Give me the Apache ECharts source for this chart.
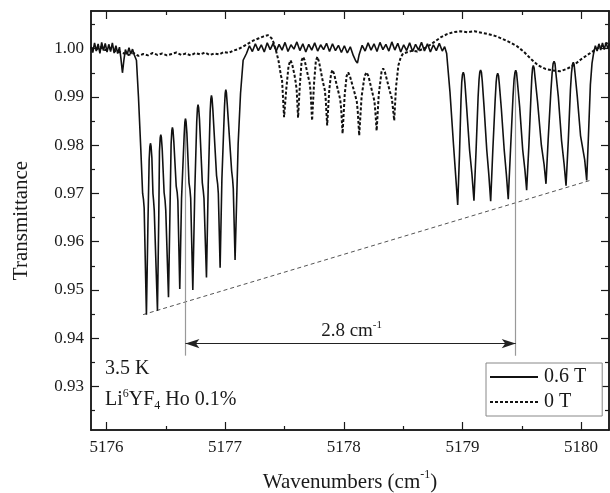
<!DOCTYPE html>
<html><head><meta charset="utf-8">
<script src="https://cdn.jsdelivr.net/npm/echarts@6/dist/echarts.min.js"></script>
<style>html,body{margin:0;padding:0;background:#fff}#c{width:610px;height:493px}</style>
</head><body><div id="c"></div>
<script>
// ---- tick values ----
const xMajorTicks = [5176, 5177, 5178, 5179, 5180];
const xMinorTicks = [5176.5, 5177.5, 5178.5, 5179.5];
const yMajorTicks = [0.93, 0.94, 0.95, 0.96, 0.97, 0.98, 0.99, 1.00];
const yMinorTicks = [0.925, 0.935, 0.945, 0.955, 0.965, 0.975, 0.985, 0.995, 1.005];
const xRange = [5175.87, 5180.235];
const yRange = [0.921, 1.0078];

// ---- 0.6 T (solid) ----
const solidLeftBase = [
 [5175.870,1.0004],[5175.885,0.9992],[5175.900,1.0012],[5175.915,0.9995],[5175.930,1.0010],[5175.945,0.9990],
 [5175.960,1.0013],[5175.975,0.9996],[5175.990,1.0011],[5176.005,0.9993],[5176.020,1.0009],[5176.035,0.9994],
 [5176.050,1.0012],[5176.065,0.9991],[5176.080,1.0006],[5176.095,0.9990],[5176.110,1.0003],[5176.122,0.9980],
 [5176.135,0.9950],[5176.148,0.9978],[5176.160,0.9998],[5176.175,0.9988],[5176.190,1.0002],[5176.205,0.9989],
 [5176.220,0.9999],[5176.235,0.9987],[5176.248,0.9985]
];
const solidLeftCluster = [
 [5176.253,0.9976],[5176.270,0.9900],[5176.290,0.9790],[5176.305,0.9700],[5176.312,0.9688],[5176.318,0.9670],[5176.337,0.9449],
 [5176.350,0.9640],[5176.360,0.9769],[5176.366,0.9797],[5176.371,0.9804],[5176.376,0.9798],[5176.383,0.9774],[5176.392,0.9700],[5176.397,0.9686],[5176.403,0.9665],[5176.430,0.9457],
 [5176.441,0.9650],[5176.447,0.9787],[5176.453,0.9815],[5176.458,0.9822],[5176.463,0.9816],[5176.470,0.9792],[5176.486,0.9702],[5176.494,0.9686],[5176.500,0.9665],[5176.523,0.9485],
 [5176.536,0.9670],[5176.545,0.9802],[5176.551,0.9830],[5176.556,0.9837],[5176.561,0.9831],[5176.568,0.9807],[5176.588,0.9715],[5176.596,0.9703],[5176.602,0.9685],[5176.618,0.9502],
 [5176.633,0.9690],[5176.655,0.9820],[5176.661,0.9848],[5176.666,0.9855],[5176.671,0.9849],[5176.678,0.9825],[5176.696,0.9722],[5176.704,0.9708],[5176.710,0.9690],[5176.728,0.9500],
 [5176.744,0.9700],[5176.761,0.9849],[5176.767,0.9877],[5176.772,0.9884],[5176.777,0.9878],[5176.784,0.9854],[5176.808,0.9722],[5176.816,0.9706],[5176.822,0.9690],[5176.843,0.9526],
 [5176.858,0.9720],[5176.874,0.9868],[5176.880,0.9896],[5176.885,0.9903],[5176.890,0.9897],[5176.897,0.9873],[5176.928,0.9737],[5176.937,0.9720],[5176.943,0.9700],[5176.958,0.9546],
 [5176.973,0.9730],[5176.995,0.9880],[5177.001,0.9908],[5177.006,0.9915],[5177.011,0.9909],[5177.018,0.9885],[5177.055,0.9747],[5177.063,0.9730],[5177.069,0.9710],[5177.084,0.9562],
 [5177.110,0.9803],[5177.130,0.9907],[5177.152,0.9976]
];
const solidMidBase = [
 [5177.180,0.9990],[5177.205,1.0006],[5177.230,0.9994],[5177.255,1.0010],[5177.280,0.9996],[5177.305,1.0008],
 [5177.330,0.9993],[5177.355,1.0012],[5177.380,0.9998],[5177.405,1.0011],[5177.430,0.9995],[5177.455,1.0009],
 [5177.480,0.9997],[5177.505,1.0013],[5177.530,0.9994],[5177.555,1.0008],[5177.580,0.9999],[5177.605,1.0014],
 [5177.630,0.9996],[5177.655,1.0010],[5177.680,0.9993],[5177.705,1.0009],[5177.730,0.9997],[5177.755,1.0012],
 [5177.780,0.9995],[5177.805,1.0008],[5177.830,0.9998],[5177.855,1.0011],[5177.880,0.9994],[5177.905,1.0010],
 [5177.930,0.9996],[5177.955,1.0007],[5177.980,0.9992],[5178.005,1.0006],[5178.030,0.9991],[5178.055,1.0004],
 [5178.080,0.9986],[5178.100,0.9975],[5178.115,0.9970],[5178.130,0.9988],[5178.155,1.0007],[5178.180,0.9995],
 [5178.205,1.0012],[5178.230,0.9997],[5178.255,1.0010],[5178.280,0.9994],[5178.305,1.0013],[5178.330,0.9998],
 [5178.355,1.0009],[5178.380,0.9995],[5178.405,1.0014],[5178.430,0.9997],[5178.455,1.0011],[5178.480,0.9993],
 [5178.505,1.0008],[5178.530,0.9996],[5178.555,1.0012],[5178.580,0.9994],[5178.605,1.0009],[5178.630,0.9997],
 [5178.655,1.0013],[5178.680,0.9995],[5178.705,1.0010],[5178.730,0.9993],[5178.755,1.0008],[5178.780,0.9996],
 [5178.805,1.0011],[5178.830,0.9995],[5178.850,1.0004]
];
const solidRightCluster = [
 [5178.867,0.9990],[5178.895,0.9910],[5178.925,0.9800],[5178.945,0.9730],[5178.960,0.9676],
 [5178.975,0.9780],[5178.988,0.9895],[5178.994,0.9930],[5179.000,0.9946],[5179.007,0.9951],[5179.014,0.9946],[5179.021,0.9928],[5179.035,0.9880],[5179.060,0.9790],[5179.080,0.9740],[5179.097,0.9685],
 [5179.115,0.9790],[5179.132,0.9900],[5179.140,0.9936],[5179.146,0.9951],[5179.153,0.9956],[5179.160,0.9951],[5179.167,0.9933],[5179.182,0.9880],[5179.205,0.9790],[5179.222,0.9740],[5179.238,0.9684],
 [5179.256,0.9790],[5179.276,0.9895],[5179.284,0.9930],[5179.290,0.9944],[5179.297,0.9949],[5179.304,0.9944],[5179.311,0.9926],[5179.328,0.9875],[5179.352,0.9790],[5179.370,0.9740],[5179.386,0.9688],
 [5179.405,0.9790],[5179.426,0.9900],[5179.435,0.9936],[5179.442,0.9950],[5179.449,0.9955],[5179.456,0.9950],[5179.463,0.9932],[5179.482,0.9880],[5179.508,0.9790],[5179.526,0.9750],[5179.541,0.9707],
 [5179.560,0.9800],[5179.578,0.9905],[5179.585,0.9942],[5179.591,0.9960],[5179.597,0.9965],[5179.604,0.9960],[5179.612,0.9940],[5179.633,0.9890],[5179.665,0.9800],[5179.688,0.9760],[5179.704,0.9720],
 [5179.722,0.9810],[5179.746,0.9915],[5179.756,0.9950],[5179.764,0.9969],[5179.772,0.9974],[5179.780,0.9969],[5179.788,0.9948],[5179.808,0.9900],[5179.835,0.9810],[5179.857,0.9760],[5179.873,0.9716],
 [5179.892,0.9810],[5179.910,0.9915],[5179.919,0.9950],[5179.927,0.9967],[5179.934,0.9972],[5179.941,0.9967],[5179.949,0.9948],[5179.968,0.9900],[5179.995,0.9820],[5180.030,0.9770],[5180.047,0.9727]
];
const solidRightEnd = [
 [5180.062,0.9820],[5180.078,0.9925],[5180.092,0.9970],[5180.105,0.9990],[5180.120,1.0006],[5180.135,0.9995],
 [5180.150,1.0010],[5180.165,0.9997],[5180.180,1.0012],[5180.195,0.9998],[5180.210,1.0013],[5180.225,1.0000],[5180.240,1.0011]
];

// ---- 0 T (dotted) ----
const dottedLeftBase = [
 [5175.87,1.0002],[5175.91,0.9998],[5175.95,1.0003],[5175.99,0.9997],[5176.03,1.0001],[5176.07,0.9995],
 [5176.11,0.9993],[5176.15,0.9990],[5176.19,0.9987],[5176.23,0.9991],[5176.27,0.9985],[5176.31,0.9989],
 [5176.35,0.9986],[5176.39,0.9991],[5176.43,0.9987],[5176.47,0.9990],[5176.51,0.9986],[5176.55,0.9989],
 [5176.59,0.9992],[5176.63,0.9987],[5176.67,0.9990],[5176.71,0.9986],[5176.75,0.9991],[5176.79,0.9988],
 [5176.83,0.9992],[5176.87,0.9987],[5176.91,0.9990],[5176.95,0.9988],[5176.99,0.9993],[5177.03,0.9991],
 [5177.07,0.9996],[5177.11,0.9999],[5177.15,1.0004],[5177.19,1.0010],[5177.24,1.0017],[5177.28,1.0021],
 [5177.32,1.0025],[5177.36,1.0028],[5177.39,1.0022],[5177.41,1.0012],[5177.43,0.9995],[5177.45,0.9975],
 [5177.47,0.9945],[5177.48,0.9935]
];
const dottedCluster = [
 [5177.497,0.9858],
 [5177.515,0.9915],[5177.535,0.9965],[5177.551,0.9976],[5177.565,0.9968],[5177.585,0.9945],[5177.595,0.9930],[5177.603,0.9915],[5177.615,0.9857],
 [5177.630,0.9925],[5177.645,0.9975],[5177.657,0.9983],[5177.670,0.9976],[5177.700,0.9942],[5177.712,0.9930],[5177.720,0.9912],[5177.733,0.9851],
 [5177.750,0.9930],[5177.765,0.9975],[5177.778,0.9983],[5177.792,0.9972],[5177.825,0.9930],[5177.840,0.9915],[5177.848,0.9895],[5177.860,0.9841],
 [5177.878,0.9915],[5177.893,0.9948],[5177.905,0.9956],[5177.918,0.9948],[5177.955,0.9910],[5177.970,0.9895],[5177.978,0.9875],[5177.990,0.9824],
 [5178.008,0.9905],[5178.024,0.9943],[5178.037,0.9951],[5178.052,0.9943],[5178.095,0.9905],[5178.110,0.9890],[5178.118,0.9870],[5178.130,0.9820],
 [5178.150,0.9900],[5178.175,0.9943],[5178.192,0.9951],[5178.208,0.9943],[5178.245,0.9905],[5178.258,0.9892],[5178.266,0.9870],[5178.277,0.9830],
 [5178.295,0.9905],[5178.318,0.9952],[5178.332,0.9959],[5178.346,0.9952],[5178.390,0.9910],[5178.405,0.9897],[5178.413,0.9880],[5178.425,0.9851],
 [5178.440,0.9920],[5178.460,0.9965],[5178.480,0.9982],[5178.500,0.9990]
];
const dottedRightBase = [
 [5178.54,0.9993],[5178.58,0.9996],[5178.62,0.9994],[5178.66,0.9999],[5178.70,1.0003],[5178.74,1.0010],
 [5178.78,1.0017],[5178.82,1.0024],[5178.87,1.0030],[5178.92,1.0034],[5178.98,1.0036],[5179.04,1.0034],
 [5179.10,1.0036],[5179.16,1.0033],[5179.22,1.0030],[5179.28,1.0026],[5179.34,1.0020],[5179.40,1.0013],
 [5179.46,1.0005],[5179.52,0.9993],[5179.58,0.9978],[5179.64,0.9965],[5179.70,0.9958],[5179.76,0.9955],
 [5179.82,0.9953],[5179.88,0.9958],[5179.94,0.9966],[5180.00,0.9978],[5180.06,0.9988],[5180.12,0.9998],
 [5180.18,1.0006],[5180.24,1.0014]
];

// ---- annotations (data coordinates) ----
const envelopeLine = [[5176.309, 0.9449], [5180.075, 0.9727]];
const markerPeaks = [[5176.666, 0.9855], [5179.449, 0.9955]];
const markerBottom = 0.9364;
const arrowLevel = 0.9389;
const seriesNames = ['0.6 T', '0 T'];

const FONT = 'Liberation Serif';
const INK = '#1a1a1a';

function xAxisDef(pos, ticks, len, labels) {
  return {
    type: 'value', position: pos, min: xRange[0], max: xRange[1],
    axisLine: {show: true, onZero: false, lineStyle: {color: INK, width: 1.5}},
    axisTick: {show: true, inside: true, length: len, customValues: ticks, lineStyle: {color: INK, width: 1.2}},
    axisLabel: labels ? {show: true, customValues: ticks, fontFamily: FONT, fontSize: 17, color: INK, margin: 9,
      formatter: v => String(Math.round(v))} : {show: false},
    splitLine: {show: false}
  };
}
function yAxisDef(pos, ticks, len, labels) {
  return {
    type: 'value', position: pos, min: yRange[0], max: yRange[1],
    axisLine: {show: true, onZero: false, lineStyle: {color: INK, width: 1.5}},
    axisTick: {show: true, inside: true, length: len, customValues: ticks, lineStyle: {color: INK, width: 1.2}},
    axisLabel: labels ? {show: true, customValues: ticks, fontFamily: FONT, fontSize: 17, color: INK, margin: 7,
      formatter: v => v.toFixed(2)} : {show: false},
    splitLine: {show: false}
  };
}

const xAxes = [
  xAxisDef('bottom', xMajorTicks, 8, true),
  xAxisDef('bottom', xMinorTicks, 4, false),
  xAxisDef('top', xMajorTicks, 8, false),
  xAxisDef('top', xMinorTicks, 4, false)
];
Object.assign(xAxes[0], {
  name: '{a|Wavenumbers (cm}{s|-1}{a|)}', nameLocation: 'middle', nameGap: 39,
  nameTextStyle: {fontFamily: FONT, fontSize: 21, color: INK,
    rich: {a: {fontFamily: FONT, fontSize: 21, color: INK, lineHeight: 26},
           s: {fontFamily: FONT, fontSize: 12, color: INK, verticalAlign: 'top', lineHeight: 26}}}
});
const yAxes = [
  yAxisDef('left', yMajorTicks, 8, true),
  yAxisDef('left', yMinorTicks, 4, false),
  yAxisDef('right', yMajorTicks, 8, false),
  yAxisDef('right', yMinorTicks, 4, false)
];
Object.assign(yAxes[0], {
  name: 'Transmittance', nameLocation: 'middle', nameGap: 59, nameRotate: 90,
  nameTextStyle: {fontFamily: FONT, fontSize: 21, color: INK}
});

const textGraphics = [
  {type: 'text', left: 105, top: 359, style: {text: '3.5 K', font: '20px "Liberation Serif"', fill: INK}},
  {type: 'text', left: 105, top: 388, style: {
    text: '{n|Li}{sup|6}{n|YF}{sub|4}{n| Ho 0.1%}',
    rich: {
      n: {fontFamily: FONT, fontSize: 20, fill: INK, lineHeight: 24},
      sup: {fontFamily: FONT, fontSize: 12, fill: INK, lineHeight: 24, verticalAlign: 'top'},
      sub: {fontFamily: FONT, fontSize: 12, fill: INK, lineHeight: 24, verticalAlign: 'bottom'}
    }}}
];

const chart = echarts.init(document.getElementById('c'), null, {renderer: 'canvas'});
chart.setOption({
  animation: false,
  backgroundColor: '#fff',
  grid: {left: 91, top: 11, width: 518, height: 419, containLabel: false, outerBoundsMode: 'none'},
  xAxis: xAxes,
  yAxis: yAxes,
  legend: {
    data: seriesNames, orient: 'vertical', left: 486, top: 363,
    itemWidth: 48, itemHeight: 14, itemGap: 5,
    padding: [4, 16, 4, 3], borderColor: '#888', borderWidth: 1, backgroundColor: '#fff',
    itemStyle: {opacity: 0},
    textStyle: {fontFamily: FONT, fontSize: 20, color: INK, padding: [0, 0, 0, 1]},
    selectedMode: false
  },
  series: [
    {
      name: seriesNames[0], type: 'line', symbol: 'none', z: 5,
      data: [].concat(solidLeftBase, solidLeftCluster, solidMidBase, solidRightCluster, solidRightEnd),
      itemStyle: {color: '#111'},
      lineStyle: {color: '#111', width: 1.6, type: 'solid'}
    },
    {
      name: seriesNames[1], type: 'line', symbol: 'none', z: 4,
      data: [].concat(dottedLeftBase, dottedCluster, dottedRightBase),
      itemStyle: {color: '#111'},
      lineStyle: {color: '#111', width: 2, type: [3, 2]}
    },
    {
      name: 'envelope', type: 'line', symbol: 'none', z: 3, silent: true,
      data: envelopeLine,
      lineStyle: {color: '#555', width: 1, type: [4, 3]},
      markLine: {
        silent: true, animation: false,
        label: {show: false},
        data: [
          [{coord: [markerPeaks[0][0], markerPeaks[0][1]], symbol: 'none', lineStyle: {color: '#999', width: 1.2, type: 'solid'}},
           {coord: [markerPeaks[0][0], markerBottom], symbol: 'none'}],
          [{coord: [markerPeaks[1][0], markerPeaks[1][1]], symbol: 'none', lineStyle: {color: '#999', width: 1.2, type: 'solid'}},
           {coord: [markerPeaks[1][0], markerBottom], symbol: 'none'}],
          [{coord: [markerPeaks[0][0], arrowLevel], symbol: 'arrow', symbolSize: [7, 14], lineStyle: {color: '#222', width: 1, type: 'solid'}},
           {coord: [markerPeaks[1][0], arrowLevel], symbol: 'arrow', symbolSize: [7, 14]}]
        ]
      }
    }
  ],
  graphic: textGraphics
});
// place splitting label centred between the two markers
const p1 = chart.convertToPixel({xAxisIndex: 0, yAxisIndex: 0}, [markerPeaks[0][0], arrowLevel]);
const p2 = chart.convertToPixel({xAxisIndex: 0, yAxisIndex: 0}, [markerPeaks[1][0], arrowLevel]);
chart.setOption({
  graphic: textGraphics.concat([
    {type: 'text', x: (p1[0] + p2[0]) / 2 + 1, y: p1[1] - 24, style: {
      text: '{n|2.8 cm}{sup|-1}', align: 'center',
      rich: {
        n: {fontFamily: FONT, fontSize: 19, fill: INK, lineHeight: 22},
        sup: {fontFamily: FONT, fontSize: 11, fill: INK, lineHeight: 22, verticalAlign: 'top'}
      }}}
  ])
});
</script>
</body></html>
